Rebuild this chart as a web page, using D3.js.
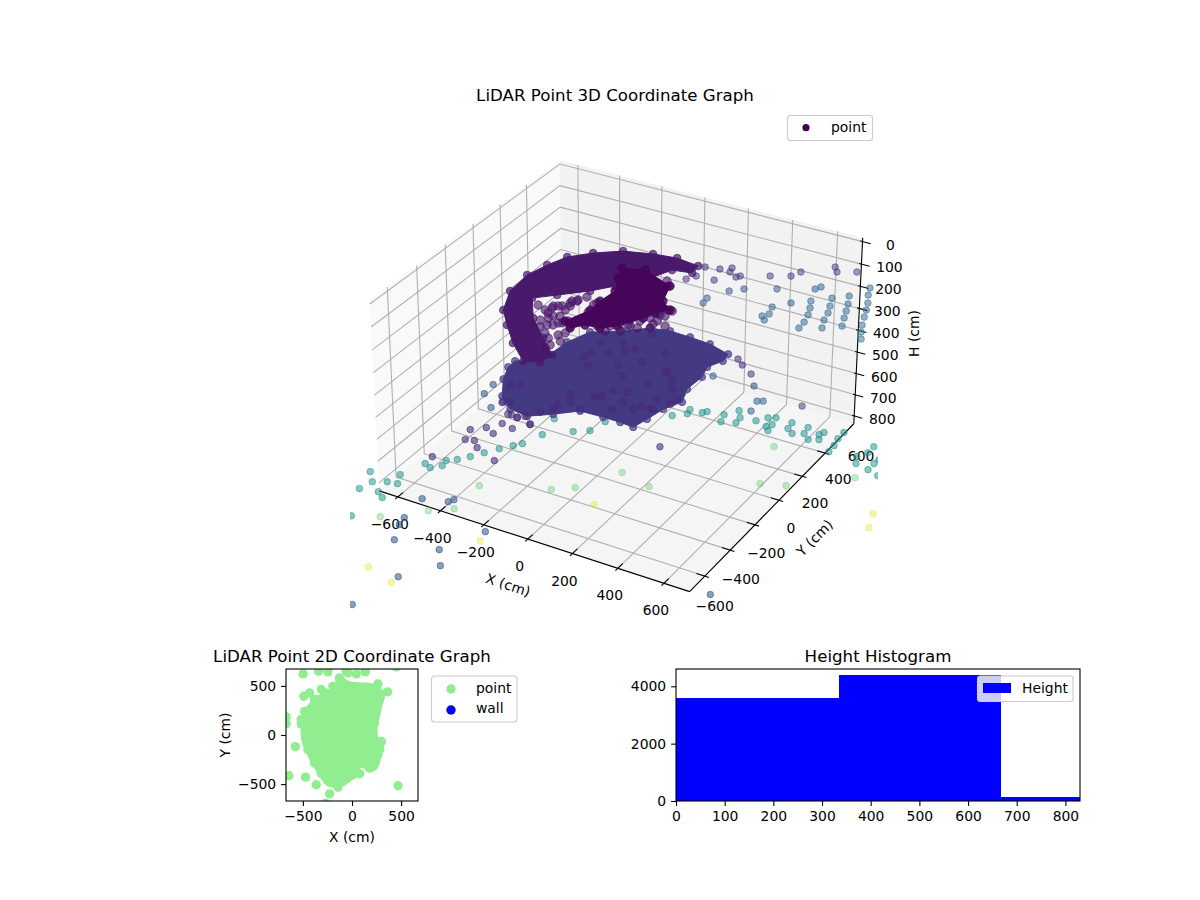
<!DOCTYPE html>
<html>
<head>
<meta charset="utf-8">
<script src="https://cdn.jsdelivr.net/npm/d3@7"></script>
<style>
  html, body { margin: 0; padding: 0; background: #fff; }
  text { font-family: "DejaVu Sans", sans-serif; fill: #000; }
</style>
</head>
<body>
<div id="chart"></div>
<script>
// tick values
var xTicks3d = [-600, -400, -200, 0, 200, 400, 600];
var yTicks3d = [-400, -200, 0, 200, 400, 600];
var yTickLabelsOnly = [-600];
var hTicks3d = [0, 100, 200, 300, 400, 500, 600, 700, 800];
var ticks2d = [-500, 0, 500];
var histXTicks = [0, 100, 200, 300, 400, 500, 600, 700, 800];
var histYTicks = [0, 2000, 4000];

// 3D limits, the panes run a little past these
var xLimits = [-688, 710];
var yLimits = [-517, 860];
var hLimits = [-17, 837];

// each height band of the cloud: [x, y, colour value]
var wallHeight = 300;
var wallPoints = [[6,861,.14],[67,876,.14],[106,908,.15],[115,874,.15],[157,848,.16],[168,864,.16],[92,781,.17],[12,775,.14],[-11,732,.14],[274,924,.17],[348,966,.18],[367,1017,.2],[470,1124,.18],[495,1090,.2],[566,1130,.22],[672,1034,.33],[496,944,.3],[483,917,.3],[349,841,.28],[233,775,.25],[189,730,.24],[692,977,.33],[629,932,.33],[577,882,.33],[514,819,.33],[720,917,.33],[655,870,.33],[599,820,.33],[537,766,.33],[452,765,.3],[402,698,.32],[140,634,.3],[146,591,.3],[740,862,.34],[674,815,.34],[618,765,.33],[556,712,.33],[418,642,.33],[401,614,.33],[424,589,.33],[758,806,.35],[692,760,.35],[630,706,.34],[569,652,.34],[779,744,.35],[714,698,.35],[652,645,.34],[573,600,.33],[800,692,.36],[825,642,.38]];

var lowHeight = 600;
var lowPoints = [[239,726,.14],[277,692,.14],[342,646,.18],[216,556,.32],[397,568,.26],[463,470,.33],[484,482,.33],[478,391,.3],[636,525,.22]];

// floor level points, one colour value for each list
var floorHeight = 780;
var tealValue = 0.5;
var tealPoints = [[79,466],[125,510],[119,543],[174,547],[187,564],[259,577],[274,523],[331,546],[327,588],[297,635],[394,600],[426,644],[454,660],[465,605],[451,580],[472,556],[528,658],[535,610],[567,584],[602,657],[609,608],[644,575],[665,631],[675,654],[682,596],[758,534],[755,585],[745,640],[745,694],[897,656],[896,604],[871,556],[891,508],[953,543],[952,491],[1005,470],[957,579],[-746,-491],[-697,-548],[-712,-614],[-635,-596],[-598,-623],[-646,-519],[-603,-511],[-631,-451],[-591,-335],[-557,-350],[-524,-314],[-531,-275],[-497,-247],[-464,-203],[-432,-151],[-396,-96],[-360,-49],[-336,-18],[-303,80],[-207,161],[-152,201],[-325,208],[-134,291],[-628,-788]];
var greenValue = 0.74;
var greenPoints = [[550,460],[630,190],[725,228],[934,412],[263,-43],[120,-7],[-317,-365],[-58,-250],[16,-192],[-312,-551],[-391,-612],[-528,-738]];
var yellowValue = 0.95;
var yellowPoints = [[1108,216],[1137,121],[143,-260],[-104,-688],[-373,-1041],[-240,-1084]];
var blueValue = 0.28;
var bluePoints = [[825,-568],[-284,-1272],[-444,-698],[-433,-748],[-391,-843],[-206,-815],[-143,-902],[-239,-1040],[-459,-553],[-359,-521],[-348,-498],[-121,-626],[-596,155],[-688,315],[-680,235]];
var purpleValue = 0.14;
var purplePoints = [[154,234],[-576,-31],[-528,14],[-479,-11],[-433,60],[-489,72],[-386,121],[-552,-105],[-516,-93],[-477,-133],[-365,-181],[-595,-278],[-578,211],[-560,221],[-494,149],[-460,140]];

// dense lower surface, its edge in x, y and the darker points on it
var slabHeight = 600;
var slabValue = 0.165;
var slabEdge = [[-507,116],[-542,208],[-544,263],[-455,313],[-440,500],[-401,619],[-286,694],[-201,771],[-116,791],[-19,787],[80,777],[185,741],[193,681],[161,607],[181,527],[175,414],[207,316],[169,232],[151,134],[134,55],[71,62],[-7,62],[-110,57],[-190,-16],[-271,-80],[-358,-67],[-440,2]];
var slabSpeckValue = 0.12;
var slabSpecks = [[-315,477],[-319,428],[-242,500],[-195,555],[-321,568],[-239,615],[-167,589],[-169,732],[-39,615],[-268,382],[-165,440],[-89,512],[28,495],[-104,375],[-75,255],[16,370],[122,385],[-212,149],[-96,189],[-22,276],[-458,91],[-428,117],[179,327],[3,201],[124,208],[-388,-21],[-415,-30],[-345,-104],[-301,-106],[-230,-125],[-278,-84],[-243,-28],[-210,17],[-217,58],[-180,96],[-117,70],[-124,181],[-93,199],[-7,132],[65,174],[84,210],[134,213],[173,280],[85,453],[39,491],[109,287]];

// dense ceiling, curved band plus a wedge and loose points
var roofHeight = 300;
var bandValue = 0.07;
var roofBand = [[-234,-159],[-344,-59],[-441,51],[-519,146],[-580,293],[-592,442],[-566,556],[-531,656],[-456,739],[-357,815],[-236,854],[-132,872],[-23,854],[-15,790],[-99,771],[-142,667],[-232,539],[-299,453],[-397,358],[-471,287],[-381,150],[-262,33],[-162,-62],[-173,-133]];
var wedgeValue = 0.015;
var roofWedge = [[-286,685],[-195,717],[-39,648],[-2,525],[60,475],[20,424],[-1,365],[-59,259],[-109,212],[-173,203],[-212,154],[-258,191],[-217,317],[-221,400],[-211,502],[-256,602]];
var roofSpeckValue = 0.06;
var roofSpecks = [[-319,102],[-358,257],[-346,283],[-319,345],[-302,364],[-284,403],[-245,43],[-274,164],[-321,203],[-297,216],[-303,129],[-317,327],[-213,-30],[-223,381],[-216,300],[-220,167],[-83,245],[-25,288],[-8,409],[45,420],[66,423],[71,472],[106,353],[-45,645],[-71,680],[57,343],[-420,250],[-374,229],[-329,180],[-348,150],[-283,141],[-260,173],[-304,268],[-224,83],[-208,110],[-210,0],[-191,45],[-248,198],[-301,355],[-304,307],[-332,291],[-363,273],[-351,214],[-277,70],[-347,95],[-215,198],[-189,232],[-173,297],[-175,361],[-228,360],[-103,280],[-60,286],[-38,327],[0,339],[23,380],[30,431],[50,470],[-32,395],[-14,285],[-80,202],[-127,220],[-28,231],[18,285],[62,311],[59,373]];

// 2D view: solid part of the cloud and the points around it
var planEdge = [[-126,599],[-24,548],[248,514],[333,412],[299,259],[265,-14],[333,-65],[316,-150],[248,-354],[163,-371],[95,-337],[10,-456],[-126,-524],[-245,-524],[-364,-371],[-466,-184],[-517,-48],[-500,224],[-398,361],[-245,463],[-160,531]];
var planPoints = [[-497,622],[-340,650],[-245,643],[-58,650],[44,622],[136,643],[452,694],[265,520],[361,439],[-432,429],[-490,395],[-313,463],[-670,184],[-670,116],[-517,156],[-517,112],[-578,-119],[-643,-415],[-473,-429],[-364,-507],[-228,-599],[-143,-531],[78,-395],[180,-337],[469,-517],[-269,-694],[-381,361],[-483,241],[299,-65],[265,-201],[-126,582],[-41,633],[-357,361],[-269,429],[-194,497],[-126,571],[112,480],[214,463],[282,378],[248,241],[231,122],[214,20],[282,-65],[282,-150],[231,-269],[180,-320],[10,-405],[-92,-473],[-211,-473],[-313,-388],[-381,-286],[-449,-150],[-459,-48],[-449,139],[-466,241]];

// histogram
var binEdges = [0, 334, 667, 1000];
var binCounts = [3591, 4393, 140];

var W = 1200, H = 900;
var fontTick = 13.9, fontTitle = 16.67;

var svg = d3.select('#chart').append('svg')
    .attr('width', W)
    .attr('height', H);

var viridis = d3.scaleSequential(d3.interpolateViridis).domain([0, 1]);

function minusText(t) { return String(t).replace('-', '\u2212'); }

// ---------- 3D view, elevation 30 azimuth -60, camera distance 10
var boxX = d3.scaleLinear().domain(xLimits).range([-0.62, 0.62]);
var boxY = d3.scaleLinear().domain(yLimits).range([-0.62, 0.62]);
var boxH = d3.scaleLinear().domain(hLimits).range([0.381, -0.381]);
var screenX = d3.scaleLinear().domain([-0.095, 0.09]).range([350, 878]);
var screenY = d3.scaleLinear().domain([-0.095, 0.09]).range([635.4, 107.4]);

function depth(x, y, h) {
    return 0.433 * boxX(x) - 0.75 * boxY(y) + 0.5 * boxH(h);
}
function project(x, y, h) {
    var dx = boxX(x), dy = boxY(y), dz = boxH(h);
    var d = 10 - depth(x, y, h);
    return [
        screenX((0.866 * dx + 0.5 * dy) / d),
        screenY((-0.25 * dx + 0.433 * dy + 0.866 * dz) / d)
    ];
}
var path3d = d3.line();
var xLo = xLimits[0], xHi = xLimits[1], yLo = yLimits[0], yHi = yLimits[1], hTop = hLimits[0], hFloor = hLimits[1];

var view = svg.append('g');

// Panes
var panes = [
    {fill: '#f9f9f9', c: [[xLo,yLo,hFloor],[xLo,yHi,hFloor],[xLo,yHi,hTop],[xLo,yLo,hTop]]},
    {fill: '#f2f2f2', c: [[xLo,yHi,hFloor],[xHi,yHi,hFloor],[xHi,yHi,hTop],[xLo,yHi,hTop]]},
    {fill: '#f5f5f5', c: [[xLo,yLo,hFloor],[xHi,yLo,hFloor],[xHi,yHi,hFloor],[xLo,yHi,hFloor]]}
];
view.selectAll('.pane').data(panes).enter().append('path')
    .attr('class', 'pane')
    .attr('fill', function (d) { return d.fill; })
    .attr('d', function (d) {
        return path3d(d.c.map(function (p) { return project(p[0], p[1], p[2]); })) + 'Z';
    });

// Grid
var gridLines = [];
xTicks3d.forEach(function (t) { gridLines.push([[t,yLo,hFloor],[t,yHi,hFloor],[t,yHi,hTop]]); });
yTicks3d.forEach(function (t) { gridLines.push([[xHi,t,hFloor],[xLo,t,hFloor],[xLo,t,hTop]]); });
hTicks3d.forEach(function (t) { gridLines.push([[xLo,yLo,t],[xLo,yHi,t],[xHi,yHi,t]]); });
view.selectAll('.grid3d').data(gridLines).enter().append('path')
    .attr('class', 'grid3d')
    .attr('fill', 'none')
    .attr('stroke', '#b0b0b0')
    .attr('stroke-width', 1.1)
    .attr('d', function (d) {
        return path3d(d.map(function (p) { return project(p[0], p[1], p[2]); }));
    });

// Axis lines and ticks
var axisLines = [
    [[xLo,yLo,hFloor],[xHi,yLo,hFloor]],
    [[xHi,yLo,hFloor],[xHi,yHi,hFloor]],
    [[xHi,yHi,hFloor],[xHi,yHi,hTop]]
];
xTicks3d.forEach(function (t) { axisLines.push([[t,yLo-18,hFloor],[t,yLo+36,hFloor]]); });
yTicks3d.forEach(function (t) { axisLines.push([[xHi-36,t,hFloor],[xHi+18,t,hFloor]]); });
hTicks3d.forEach(function (t) { axisLines.push([[xHi-10,yHi,t],[xHi+36,yHi,t]]); });
view.selectAll('.axis3d').data(axisLines).enter().append('path')
    .attr('class', 'axis3d')
    .attr('fill', 'none')
    .attr('stroke', '#000')
    .attr('stroke-width', 1.1)
    .attr('d', function (d) {
        return path3d(d.map(function (p) { return project(p[0], p[1], p[2]); }));
    });

// Tick labels
function label3d(text, pos, dx, dy) {
    view.append('text')
        .attr('x', pos[0] + dx)
        .attr('y', pos[1] + dy)
        .attr('dy', '.36em')
        .attr('text-anchor', 'middle')
        .style('font-size', fontTick + 'px')
        .text(minusText(text));
}
xTicks3d.forEach(function (t) { label3d(t, project(t, yLo, hFloor), -8, 27); });
yTicks3d.concat(yTickLabelsOnly).forEach(function (t) { label3d(t, project(xHi, t, hFloor), 36, 3); });
hTicks3d.forEach(function (t) { label3d(t, project(xHi, yHi, t), 28, 3); });

// Axis labels
function axisLabel3d(text, pos, dx, dy, angle) {
    view.append('text')
        .attr('transform', 'translate(' + (pos[0] + dx) + ',' + (pos[1] + dy) + ') rotate(' + angle + ')')
        .attr('dy', '.36em')
        .attr('text-anchor', 'middle')
        .style('font-size', fontTick + 'px')
        .text(text);
}
axisLabel3d('X (cm)', project(11, yLo, hFloor), -22, 45, 18);
axisLabel3d('Y (cm)', project(xHi, 171, hFloor), 39, 34, -45);
axisLabel3d('H (cm)', project(xHi, yHi, 410), 56, 1, -90);

// Cloud, clipped to the axes box
svg.append('clipPath').attr('id', 'clip3d').append('rect')
    .attr('x', 350).attr('y', 108.9).attr('width', 528).attr('height', 528);
var cloud = view.append('g').attr('clip-path', 'url(#clip3d)');

function drawEdge(edge, height, value) {
    cloud.append('path')
        .attr('fill', viridis(value))
        .attr('stroke', viridis(value))
        .attr('stroke-width', 1)
        .attr('stroke-linejoin', 'round')
        .attr('d', path3d(edge.map(function (p) { return project(p[0], p[1], height); })) + 'Z');
}
function drawPoints(list, height, value, alpha, radius) {
    cloud.append('g').selectAll('circle')
        .data(list)
        .enter()
        .append('circle')
        .attr('cx', function (d) { return project(d[0], d[1], height)[0]; })
        .attr('cy', function (d) { return project(d[0], d[1], height)[1]; })
        .attr('r', radius || 3.3)
        .attr('stroke-width', 1)
        .attr('fill', function (d) { return viridis(d.length > 2 ? d[2] : value); })
        .attr('stroke', function (d) { return viridis(d.length > 2 ? d[2] : value); })
        .attr('fill-opacity', alpha)
        .attr('stroke-opacity', alpha);
}
drawPoints(tealPoints, floorHeight, tealValue, 0.52);
drawPoints(greenPoints, floorHeight, greenValue, 0.36);
drawPoints(yellowPoints, floorHeight, yellowValue, 0.36);
drawPoints(bluePoints, floorHeight, blueValue, 0.58);
drawPoints(purplePoints, floorHeight, purpleValue, 0.6);
drawPoints(wallPoints, wallHeight, null, 0.52);
drawPoints(lowPoints, lowHeight, null, 0.55);
drawEdge(slabEdge, slabHeight, slabValue);
drawPoints(slabEdge, slabHeight, slabValue, 0.7, 3.6);
drawPoints(slabSpecks, slabHeight, slabSpeckValue, 0.55, 3.6);
drawEdge(roofBand, roofHeight, bandValue);
drawPoints(roofBand, roofHeight, bandValue, 0.7, 3.8);
drawPoints(roofSpecks, roofHeight, roofSpeckValue, 0.62, 4.2);
drawEdge(roofWedge, roofHeight, wedgeValue);
drawPoints(roofWedge, roofHeight, wedgeValue, 0.85, 4.2);

view.append('text')
    .attr('x', 615).attr('y', 100.5)
    .attr('text-anchor', 'middle')
    .style('font-size', fontTitle + 'px')
    .text('LiDAR Point 3D Coordinate Graph');

// Legend of the 3D view
function legendBox(g, x, y, w, h) {
    g.append('rect')
        .attr('x', x).attr('y', y)
        .attr('width', w).attr('height', h)
        .attr('rx', 3)
        .attr('fill', '#fff')
        .attr('fill-opacity', 0.8)
        .attr('stroke', '#ccc')
        .attr('stroke-width', 1.1);
}
function legendText(g, x, y, text) {
    g.append('text')
        .attr('x', x).attr('y', y)
        .attr('dy', '.36em')
        .style('font-size', fontTick + 'px')
        .text(text);
}
var legend3d = svg.append('g');
legendBox(legend3d, 787.5, 115.5, 85, 25);
legend3d.append('circle').attr('cx', 806).attr('cy', 127.7).attr('r', 3.6).attr('fill', viridis(0));
legendText(legend3d, 831, 127, 'point');

// ---------- 2D plan view
var plan = {left: 286, right: 418, top: 669, bottom: 801};
var planX = d3.scaleLinear().domain([-672, 672]).range([plan.left, plan.right]);
var planY = d3.scaleLinear().domain([-672, 672]).range([plan.bottom, plan.top]);
var planGreen = '#90ee90';

svg.append('clipPath').attr('id', 'clipPlan').append('rect')
    .attr('x', plan.left).attr('y', plan.top)
    .attr('width', plan.right - plan.left).attr('height', plan.bottom - plan.top);
var planG = svg.append('g');
var planMarks = planG.append('g').attr('clip-path', 'url(#clipPlan)');
planMarks.append('path')
    .attr('fill', planGreen)
    .attr('d', d3.line().curve(d3.curveCatmullRomClosed)
        .x(function (d) { return planX(d[0]); })
        .y(function (d) { return planY(d[1]); })(planEdge));
planMarks.selectAll('circle')
    .data(planPoints)
    .enter()
    .append('circle')
    .attr('cx', function (d) { return planX(d[0]); })
    .attr('cy', function (d) { return planY(d[1]); })
    .attr('r', 4.7)
    .attr('fill', planGreen);

function styleAxis(g) {
    g.selectAll('text').style('font-size', fontTick + 'px').attr('fill', '#000');
    g.selectAll('line').attr('stroke-width', 1.1);
    g.selectAll('.domain').remove();
}
function frame(g, box) {
    g.append('rect')
        .attr('x', box.left).attr('y', box.top)
        .attr('width', box.right - box.left).attr('height', box.bottom - box.top)
        .attr('fill', 'none')
        .attr('stroke', '#000')
        .attr('stroke-width', 1.1);
}
planG.append('g')
    .attr('transform', 'translate(0,' + plan.bottom + ')')
    .call(d3.axisBottom(planX).tickValues(ticks2d).tickSize(4.9).tickPadding(4.9))
    .call(styleAxis);
planG.append('g')
    .attr('transform', 'translate(' + plan.left + ',0)')
    .call(d3.axisLeft(planY).tickValues(ticks2d).tickSize(4.9).tickPadding(4.9))
    .call(styleAxis);
frame(planG, plan);

planG.append('text')
    .attr('x', 352).attr('y', 661.5)
    .attr('text-anchor', 'middle')
    .style('font-size', fontTitle + 'px')
    .text('LiDAR Point 2D Coordinate Graph');
planG.append('text')
    .attr('x', 352).attr('y', 842)
    .attr('text-anchor', 'middle')
    .style('font-size', fontTick + 'px')
    .text('X (cm)');
planG.append('text')
    .attr('transform', 'translate(225,735) rotate(-90)')
    .attr('dy', '.36em')
    .attr('text-anchor', 'middle')
    .style('font-size', fontTick + 'px')
    .text('Y (cm)');

legendBox(planG, 431.5, 676, 85.5, 46);
planG.append('circle').attr('cx', 451).attr('cy', 689).attr('r', 4.7).attr('fill', planGreen);
planG.append('circle').attr('cx', 451).attr('cy', 710).attr('r', 4.7).attr('fill', '#0000ff');
legendText(planG, 476, 688, 'point');
legendText(planG, 476, 708, 'wall');

// ---------- Histogram
var hist = {left: 676, right: 1080, top: 669, bottom: 801};
var histX = d3.scaleLinear().domain([0, 830]).range([hist.left, hist.right]);
var histY = d3.scaleLinear().domain([0, 4603]).range([hist.bottom, hist.top]);

svg.append('clipPath').attr('id', 'clipHist').append('rect')
    .attr('x', hist.left).attr('y', hist.top)
    .attr('width', hist.right - hist.left).attr('height', hist.bottom - hist.top);
var histG = svg.append('g');
histG.append('g').attr('clip-path', 'url(#clipHist)')
    .selectAll('rect')
    .data(binCounts)
    .enter()
    .append('rect')
    .attr('x', function (d, i) { return histX(binEdges[i]); })
    .attr('width', function (d, i) { return histX(binEdges[i + 1]) - histX(binEdges[i]); })
    .attr('y', function (d) { return histY(d); })
    .attr('height', function (d) { return histY(0) - histY(d); })
    .attr('shape-rendering', 'crispEdges')
    .attr('fill', '#0000ff');

histG.append('g')
    .attr('transform', 'translate(0,' + hist.bottom + ')')
    .call(d3.axisBottom(histX).tickValues(histXTicks).tickFormat(d3.format('d')).tickSize(4.9).tickPadding(4.9))
    .call(styleAxis);
histG.append('g')
    .attr('transform', 'translate(' + hist.left + ',0)')
    .call(d3.axisLeft(histY).tickValues(histYTicks).tickFormat(d3.format('d')).tickSize(4.9).tickPadding(4.9))
    .call(styleAxis);
frame(histG, hist);

histG.append('text')
    .attr('x', 878).attr('y', 661.5)
    .attr('text-anchor', 'middle')
    .style('font-size', fontTitle + 'px')
    .text('Height Histogram');

legendBox(histG, 977.5, 676, 95.5, 25.5);
histG.append('rect').attr('x', 983).attr('y', 683).attr('width', 28).attr('height', 10).attr('fill', '#0000ff');
legendText(histG, 1022, 688, 'Height');
</script>
</body>
</html>
